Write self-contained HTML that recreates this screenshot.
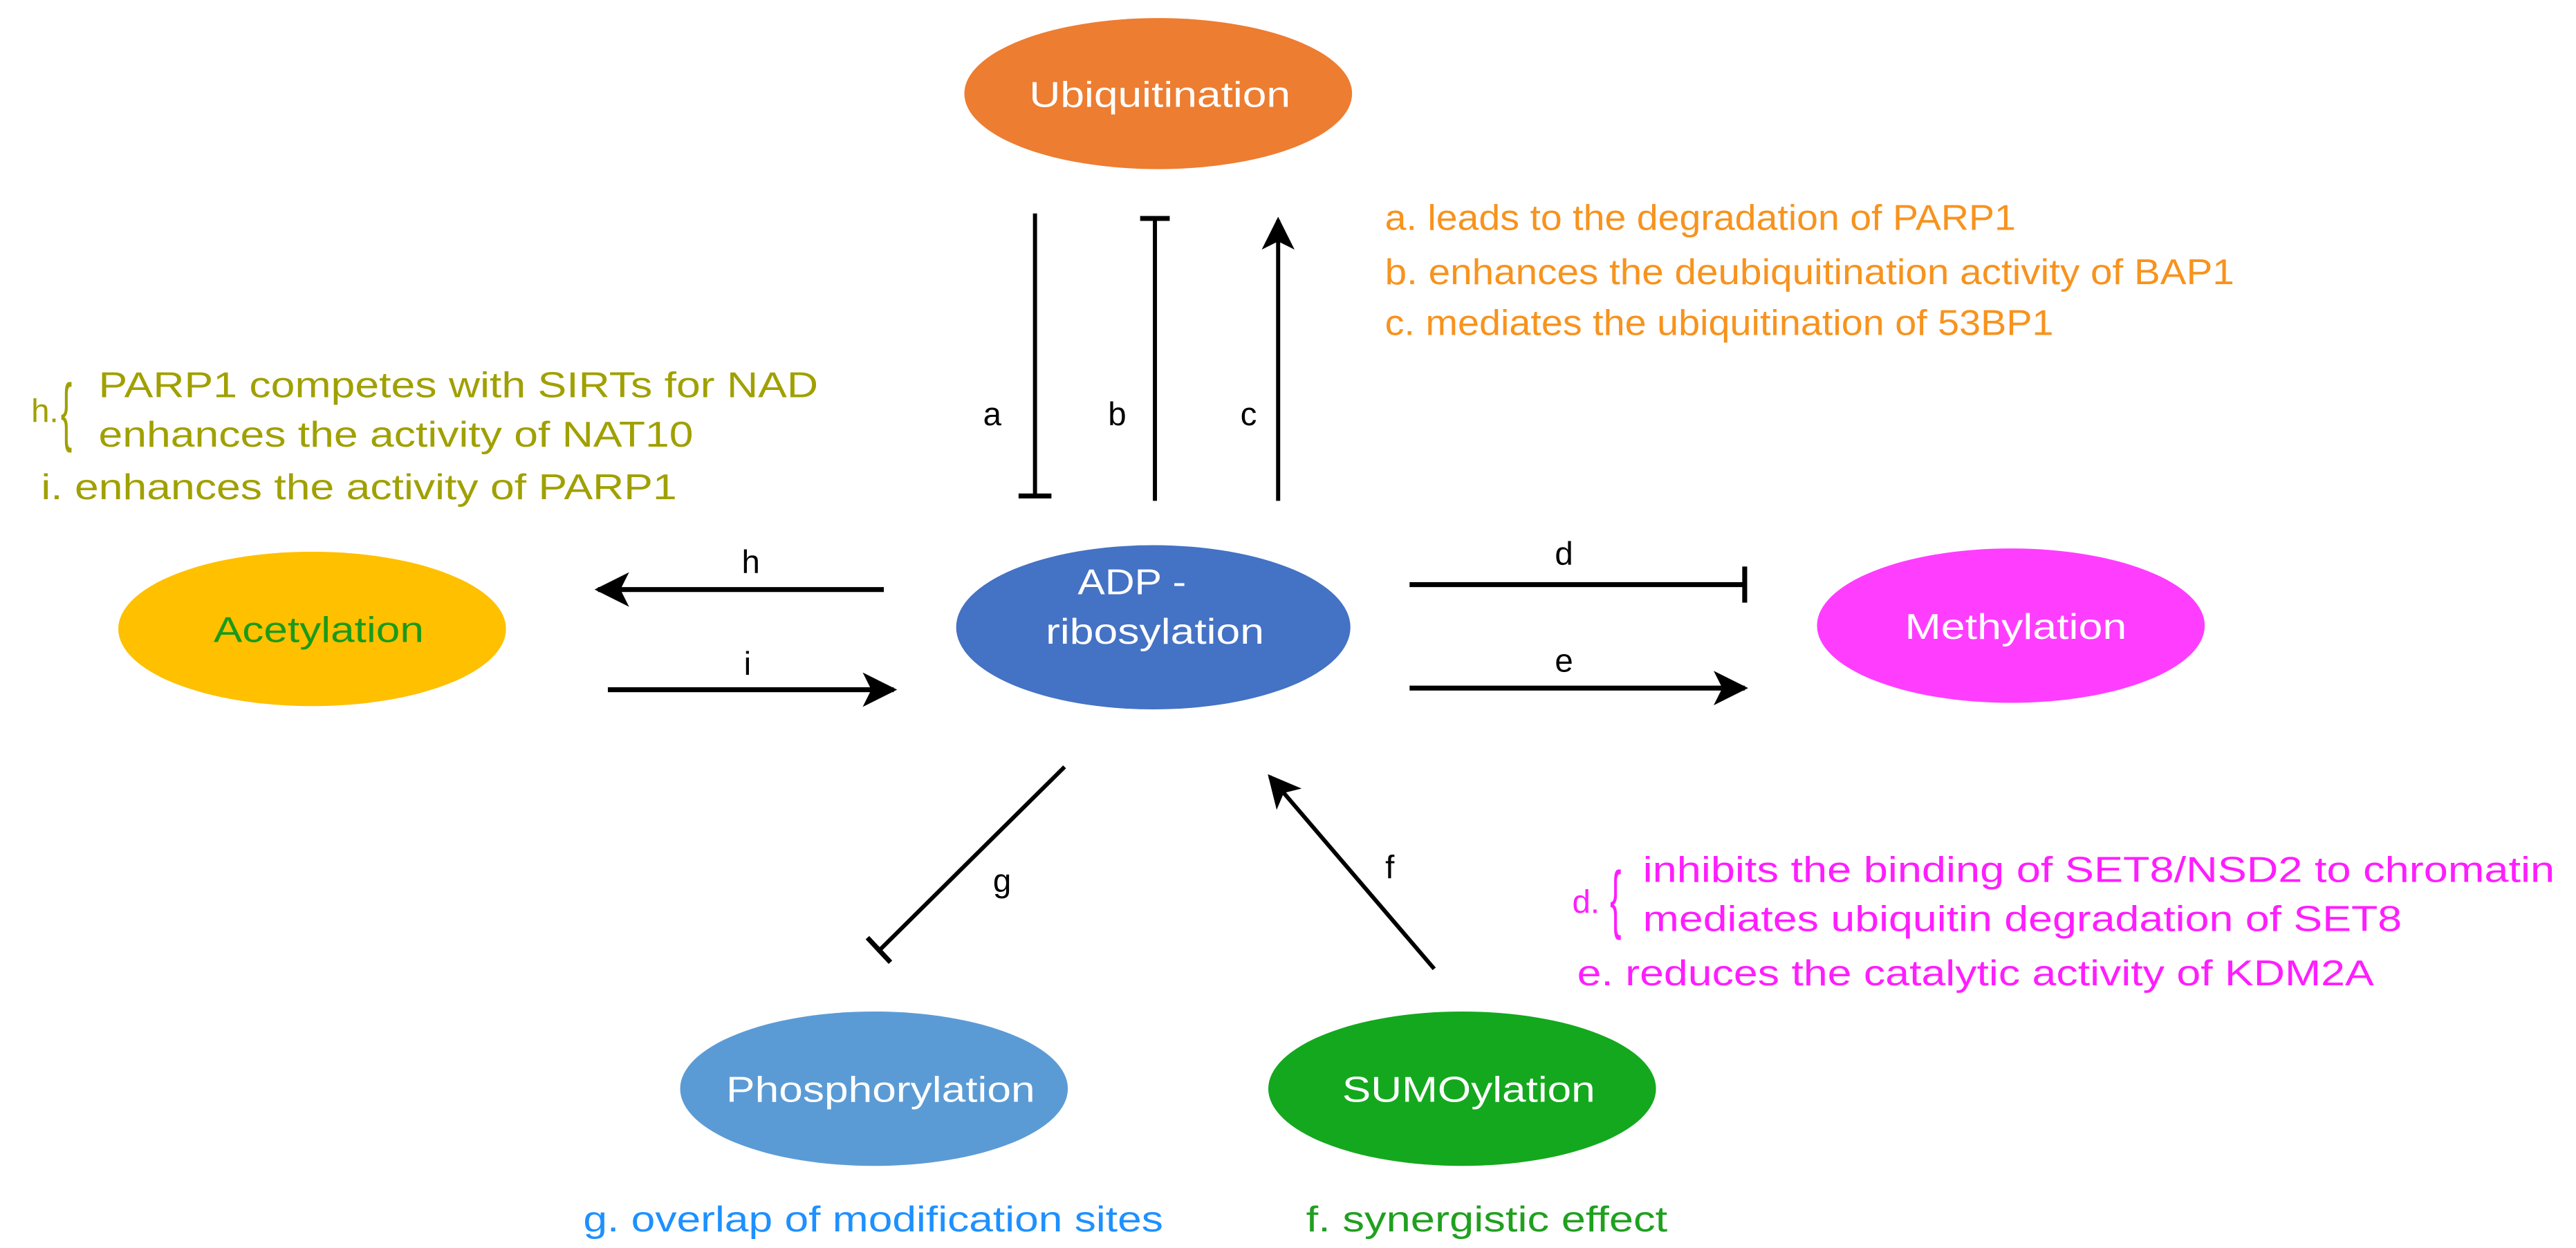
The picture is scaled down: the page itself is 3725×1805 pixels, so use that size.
<!DOCTYPE html>
<html><head><meta charset="utf-8"><style>
html,body{margin:0;padding:0;background:#fff}
svg{display:block}
text{font-family:"Liberation Sans",Arial,sans-serif}
</style></head><body>
<svg width="3725" height="1805" viewBox="0 0 1568 760" preserveAspectRatio="none" xmlns="http://www.w3.org/2000/svg">
<defs>
<marker id="ar" viewBox="0 0 10 10" refX="9" refY="5" markerWidth="9" markerHeight="8" orient="auto" markerUnits="strokeWidth"><path d="M0,0 L10,5 L0,10 L2.5,5 z" fill="#000"/></marker>
<marker id="ar2" viewBox="0 0 10 10" refX="9" refY="5" markerWidth="7" markerHeight="7" orient="auto" markerUnits="strokeWidth"><path d="M0,0 L10,5 L0,10 L2.5,5 z" fill="#000"/></marker>
</defs>
<ellipse cx="705" cy="57" rx="118" ry="46" fill="#ED7D31"/>
<text x="706" y="65" font-size="22" fill="#fff" text-anchor="middle" textLength="159" lengthAdjust="spacingAndGlyphs">Ubiquitination</text>
<ellipse cx="702" cy="382" rx="120" ry="50" fill="#4472C4"/>
<text x="689" y="362" font-size="22" fill="#fff" text-anchor="middle" textLength="66" lengthAdjust="spacingAndGlyphs">ADP -</text>
<text x="703" y="392" font-size="22" fill="#fff" text-anchor="middle" textLength="133" lengthAdjust="spacingAndGlyphs">ribosylation</text>
<ellipse cx="190" cy="383" rx="118" ry="47" fill="#FFC000"/>
<text x="194" y="391" font-size="22" fill="#1A9A1A" text-anchor="middle" textLength="128" lengthAdjust="spacingAndGlyphs">Acetylation</text>
<ellipse cx="1224" cy="381" rx="118" ry="47" fill="#FF3DFF"/>
<text x="1227" y="389" font-size="22" fill="#fff" text-anchor="middle" textLength="135" lengthAdjust="spacingAndGlyphs">Methylation</text>
<ellipse cx="532" cy="663" rx="118" ry="47" fill="#5B9BD5"/>
<text x="536" y="671" font-size="22" fill="#fff" text-anchor="middle" textLength="188" lengthAdjust="spacingAndGlyphs">Phosphorylation</text>
<ellipse cx="890" cy="663" rx="118" ry="47" fill="#14A81E"/>
<text x="894" y="671" font-size="22" fill="#fff" text-anchor="middle" textLength="154" lengthAdjust="spacingAndGlyphs">SUMOylation</text>
<g stroke="#000" stroke-width="2.5" fill="none">
<line x1="630" y1="130" x2="630" y2="302"/><line x1="620" y1="302" x2="640" y2="302" stroke-width="3"/>
<line x1="703" y1="305" x2="703" y2="133"/><line x1="694" y1="133" x2="712" y2="133" stroke-width="3"/>
<line x1="778" y1="305" x2="778" y2="134" marker-end="url(#ar)"/>
<line x1="538" y1="359" x2="364" y2="359" stroke-width="3" marker-end="url(#ar2)"/>
<line x1="370" y1="420" x2="544" y2="420" stroke-width="3" marker-end="url(#ar2)"/>
<line x1="858" y1="356" x2="1062" y2="356" stroke-width="3"/><line x1="1062" y1="345" x2="1062" y2="367" stroke-width="3"/>
<line x1="858" y1="419" x2="1062" y2="419" stroke-width="3" marker-end="url(#ar2)"/>
<line x1="648" y1="467" x2="536" y2="578"/><line x1="528" y1="571" x2="542" y2="586" stroke-width="3"/>
<line x1="873" y1="590" x2="773" y2="473" marker-end="url(#ar)"/>
</g>
<g font-size="20" fill="#000" text-anchor="middle">
<text x="604" y="259">a</text><text x="680" y="259">b</text><text x="760" y="259">c</text>
<text x="457" y="349">h</text><text x="455" y="411">i</text>
<text x="952" y="344">d</text><text x="952" y="409">e</text>
<text x="610" y="543">g</text><text x="846" y="535">f</text>
</g>
<g font-size="22" fill="#F7931E">
<text x="843" y="140" textLength="384" lengthAdjust="spacingAndGlyphs">a. leads to the degradation of PARP1</text>
<text x="843" y="173" textLength="517" lengthAdjust="spacingAndGlyphs">b. enhances the deubiquitination activity of BAP1</text>
<text x="843" y="204" textLength="407" lengthAdjust="spacingAndGlyphs">c. mediates the ubiquitination of 53BP1</text>
</g>
<g font-size="22" fill="#A0A000">
<text x="19" y="257" font-size="20">h.</text>
<text x="0" y="0" font-size="46" transform="translate(37,266) scale(0.45,1)">{</text>
<text x="60" y="242" textLength="438" lengthAdjust="spacingAndGlyphs">PARP1 competes with SIRTs for NAD</text>
<text x="60" y="272" textLength="362" lengthAdjust="spacingAndGlyphs">enhances the activity of NAT10</text>
<text x="25" y="304" textLength="387" lengthAdjust="spacingAndGlyphs">i. enhances the activity of PARP1</text>
</g>
<g font-size="22" fill="#FF1DFF">
<text x="957" y="556" font-size="20">d.</text>
<text x="0" y="0" font-size="46" transform="translate(980,563) scale(0.45,1)">{</text>
<text x="1000" y="537" textLength="555" lengthAdjust="spacingAndGlyphs">inhibits the binding of SET8/NSD2 to chromatin</text>
<text x="1000" y="567" textLength="462" lengthAdjust="spacingAndGlyphs">mediates ubiquitin degradation of SET8</text>
<text x="960" y="600" textLength="485" lengthAdjust="spacingAndGlyphs">e. reduces the catalytic activity of KDM2A</text>
</g>
<text x="355" y="750" font-size="22" fill="#1E90FF" textLength="353" lengthAdjust="spacingAndGlyphs">g. overlap of modification sites</text>
<text x="795" y="750" font-size="22" fill="#1FA01F" textLength="220" lengthAdjust="spacingAndGlyphs">f. synergistic effect</text>
</svg>
</body></html>
